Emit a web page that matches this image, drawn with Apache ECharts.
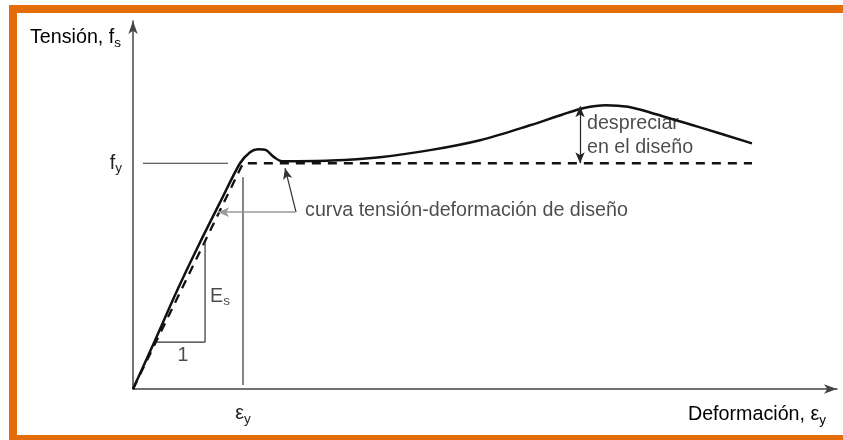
<!DOCTYPE html>
<html>
<head>
<meta charset="utf-8">
<script src="https://cdn.jsdelivr.net/npm/echarts@6/dist/echarts.min.js"></script>
<style>
html,body{margin:0;padding:0;background:#fff;}
#chart{width:843px;height:440px;}
</style>
</head>
<body>
<div id="chart"></div>
<script>
// strain in units of eps_y, stress in units of f_y
const testStrain = [0, 0.2, 0.4, 0.6, 0.8, 0.973, 1.064, 1.136, 1.21, 1.282, 1.355, 1.8, 2.245, 2.7, 3.155, 3.609, 3.9, 4.1, 4.3, 4.5, 4.7, 5.155, 5.627];
const testStress = [0, 0.215, 0.435, 0.64, 0.835, 1.0, 1.049, 1.062, 1.058, 1.027, 1.009, 1.012, 1.027, 1.058, 1.102, 1.168, 1.215, 1.245, 1.257, 1.25, 1.225, 1.159, 1.088];
const designStrain = [0, 1.0, 5.627];
const designStress = [0, 1.0, 1.0];
const fyLineX = [0.09, 0.864];
const epsLineY = [0.018, 0.938];
const slopeX = [0.218, 0.655, 0.655];
const slopeY = [0.208, 0.208, 0.65];
const xTicks = [1];
const yTicks = [1];

const pair = (xs, ys) => xs.map((x, i) => [x, ys[i]]);
const ink = '#111';
const txt = '#1e1e1e';
const font = '"Liberation Sans", Arial, sans-serif';
const fs = 19.7;
const main = {fontSize: fs, fontFamily: font, color: txt};
const sub = {fontSize: 13.5, fontFamily: font, color: txt, padding: [10, 0, 0, 0]};

const chart = echarts.init(document.getElementById('chart'));
chart.setOption({
    animation: false,
    grid: {left: 133, right: 6, top: 21, bottom: 51},
    xAxis: {
        type: 'value', min: 0, max: 6.4,
        splitLine: {show: false}, axisTick: {show: false},
        axisLine: {onZero: false, symbol: ['none', 'arrow'], symbolSize: [7, 13], lineStyle: {color: '#444', width: 1.5}},
        axisLabel: {
            customValues: xTicks, margin: 13,
            formatter: () => '{m|ε}{s|y}',
            rich: {m: main, s: sub}
        }
    },
    yAxis: {
        type: 'value', min: 0, max: 1.63,
        splitLine: {show: false}, axisTick: {show: false},
        axisLine: {onZero: false, symbol: ['none', 'arrow'], symbolSize: [7, 13], lineStyle: {color: '#444', width: 1.5}},
        axisLabel: {
            customValues: yTicks, margin: 11,
            formatter: () => '{m|f}{s|y}',
            rich: {m: main, s: sub}
        }
    },
    graphic: [
        {type: 'rect', shape: {x: 9, y: 5, width: 8, height: 435}, style: {fill: '#E46C0A'}},
        {type: 'rect', shape: {x: 9, y: 5, width: 834, height: 8}, style: {fill: '#E46C0A'}},
        {type: 'rect', shape: {x: 9, y: 435, width: 834, height: 5}, style: {fill: '#E46C0A'}},
        {type: 'text', style: {x: 30, y: 38, text: '{m|Tensión, f}{s|s}', textVerticalAlign: 'middle',
            rich: {m: main, s: sub}}},
        {type: 'text', style: {x: 826, y: 415, text: '{m|Deformación, ε}{s|y}', textAlign: 'right', textVerticalAlign: 'middle',
            rich: {m: main, s: sub}}}
    ],
    series: [
        {
            type: 'line', data: pair(testStrain, testStress), smooth: 0.3, symbol: 'none',
            lineStyle: {color: ink, width: 2.5}
        },
        {
            type: 'line', data: pair(designStrain, designStress), symbol: 'none',
            lineStyle: {color: ink, width: 2.3, type: [9, 7]}
        },
        {
            type: 'line', data: pair(fyLineX, [1, 1]), symbol: 'none',
            lineStyle: {color: '#333', width: 1.2}
        },
        {
            type: 'line', data: pair([1, 1], epsLineY), symbol: 'none',
            lineStyle: {color: '#333', width: 1.2}
        },
        {
            type: 'line', data: pair(slopeX, slopeY), symbol: 'none',
            lineStyle: {color: '#333', width: 1.2}
        },
        {
            type: 'scatter', symbolSize: 0, silent: true,
            data: [
                {value: [1.564, 0.792], name: 'curva tensión-deformación de diseño', label: {position: 'right'}},
                {value: [4.127, 1.124], name: 'despreciar\nen el diseño', label: {position: 'right', lineHeight: 24}},
                {value: [0.70, 0.41], name: 'E', label: {position: 'right', formatter: '{m|E}{s|s}'}},
                {value: [0.455, 0.146], name: '1', label: {position: 'inside'}}
            ],
            label: {
                show: true, distance: 0, formatter: '{b}', fontSize: fs, fontFamily: font, color: txt,
                rich: {m: main, s: sub}
            },
            markLine: {
                silent: true, symbolSize: [7, 11], label: {show: false},
                data: [
                    [{coord: [1.473, 0.783], symbol: 'none', lineStyle: {color: '#999', width: 1.5, type: 'solid'}},
                     {coord: [0.773, 0.783], symbol: 'arrow'}],
                    [{coord: [1.482, 0.783], symbol: 'none', lineStyle: {color: '#333', width: 1.2, type: 'solid'}},
                     {coord: [1.382, 0.978], symbol: 'arrow'}],
                    [{coord: [4.064, 1.0], symbol: 'arrow', lineStyle: {color: '#222', width: 1.2, type: 'solid'}},
                     {coord: [4.064, 1.252], symbol: 'arrow'}]
                ]
            }
        }
    ]
});
</script>
</body>
</html>
